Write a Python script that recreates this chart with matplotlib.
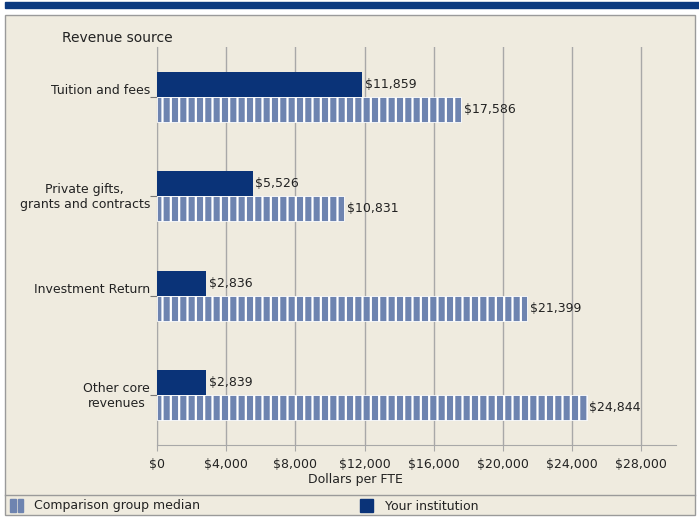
import matplotlib.pyplot as plt
from matplotlib.patches import Rectangle

# data
categories = ["Tuition and fees", "Private gifts,\ngrants and contracts",
              "Investment Return", "Other core\nrevenues"]
your_institution = [11859, 5526, 2836, 2839]
comparison_median = [17586, 10831, 21399, 24844]
xticks = [0, 4000, 8000, 12000, 16000, 20000, 24000, 28000]

navy = "#0A3378"
stripe = "#6E84B0"
bg = "#EFEBDF"
grid = "#A8A8A8"

W, H = 699, 518
fig = plt.figure(figsize=(W / 100, H / 100), dpi=100, facecolor="white")

def px(x0, y0, x1, y1):
    # pixel box (top-left origin) -> figure fraction
    return x0 / W, 1 - y1 / H, (x1 - x0) / W, (y1 - y0) / H

# top band and frame (behind the axes)
x, y, w, h = px(5, 2, 699, 8)
fig.patches.append(Rectangle((x, y), w, h, transform=fig.transFigure, color="#0B3A80", zorder=-2))
x, y, w, h = px(5, 15, 695, 515)
fig.patches.append(Rectangle((x, y), w, h, transform=fig.transFigure, facecolor=bg,
                             edgecolor="#9A9A9A", lw=1, zorder=-2))
fig.add_artist(plt.Line2D([5 / W, 695 / W], [1 - 495 / H] * 2, transform=fig.transFigure,
                          color="#9A9A9A", lw=1, zorder=-1))

ax = fig.add_axes([157 / W, 1 - 445 / H, (676 - 157) / W, (445 - 47) / H])
ax.set_facecolor("none")

plt.rcParams["hatch.color"] = "white"
plt.rcParams["hatch.linewidth"] = 1.6

pos = [i + 0.5 for i in range(len(categories))]
bh = 0.25
ax.barh([p - bh / 2 for p in pos], your_institution, height=bh, color=navy, zorder=3)
ax.barh([p + bh / 2 for p in pos], comparison_median, height=bh, color=stripe,
        hatch="||", edgecolor="white", lw=0.6, zorder=3)

for p, v in zip(pos, your_institution):
    ax.text(v + 150, p - bh / 2, f"${v:,}", va="center", ha="left", fontsize=9, color="#222222")
for p, v in zip(pos, comparison_median):
    ax.text(v + 150, p + bh / 2, f"${v:,}", va="center", ha="left", fontsize=9, color="#222222")

ax.set_xlim(0, 30000)
ax.set_ylim(len(categories), 0)
ax.set_xticks(xticks)
ax.set_xticklabels([f"${t:,}" for t in xticks], fontsize=9, color="#222222")
ax.set_yticks(pos)
ax.set_yticklabels([])
# category labels: first line sits on the tick, further lines hang below
for p, lab in zip(pos, categories):
    n = lab.count("\n")
    ax.annotate(lab, xy=(0, p), xycoords=("axes fraction", "data"),
                xytext=(-5, 2 - n * 10.8), textcoords="offset points",
                ha="right", va="baseline", multialignment="center",
                fontsize=9, color="#222222", annotation_clip=False)
ax.xaxis.grid(True, color=grid, lw=1, zorder=0)
ax.tick_params(axis="x", length=4, color=grid, pad=5)
ax.tick_params(axis="y", length=5, color="#777777", pad=2)
for s in ["top", "right"]:
    ax.spines[s].set_visible(False)
ax.spines["left"].set_color(grid)
ax.spines["bottom"].set_color(grid)

fig.text(62 / W, 1 - 38 / H, "Revenue source", fontsize=10, va="center", ha="left", color="#222222")
fig.text(355 / W, 1 - 480 / H, "Dollars per FTE", fontsize=9, va="center", ha="center", color="#222222")

# legend
x, y, w, h = px(10, 499, 16, 512)
fig.patches.append(Rectangle((x, y), w, h, transform=fig.transFigure, color=stripe))
x, y, w, h = px(18, 499, 23, 512)
fig.patches.append(Rectangle((x, y), w, h, transform=fig.transFigure, color=stripe))
fig.text(34 / W, 1 - 506 / H, "Comparison group median", fontsize=9, va="center", color="#222222")
x, y, w, h = px(360, 499, 373, 512)
fig.patches.append(Rectangle((x, y), w, h, transform=fig.transFigure, color=navy))
fig.text(385 / W, 1 - 506 / H, "Your institution", fontsize=9, va="center", color="#222222")

fig.savefig("out.png", dpi=100)
